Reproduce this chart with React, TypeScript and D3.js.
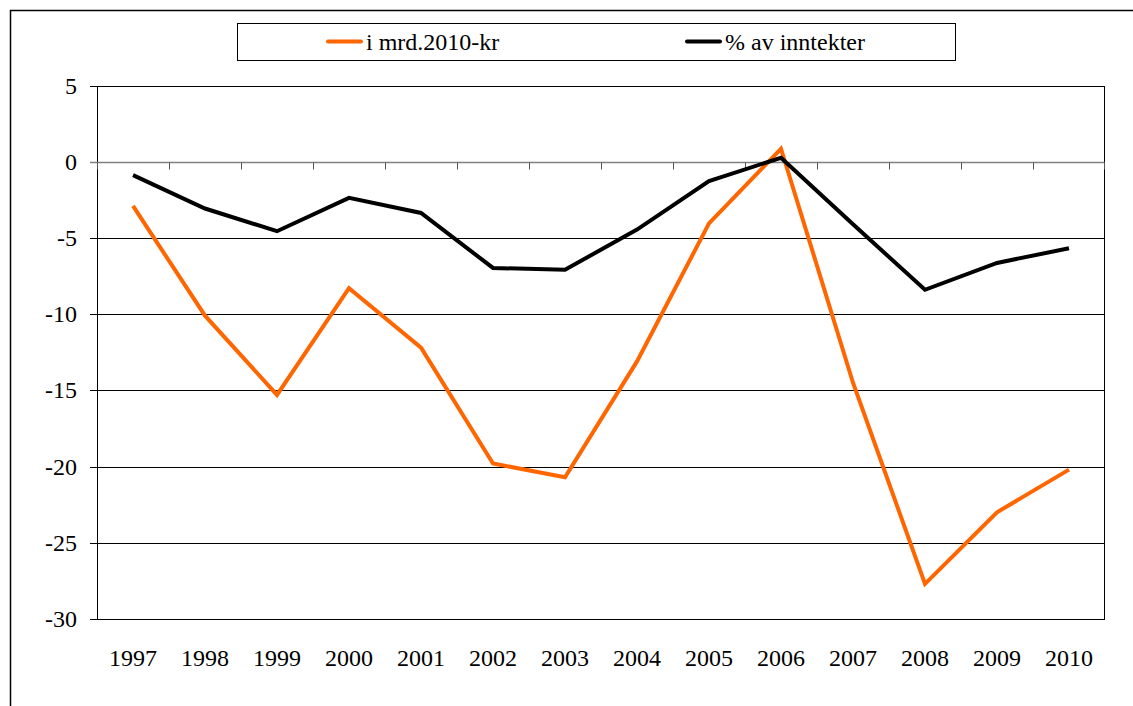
import React from "react";
import * as d3 from "d3";

// categories and series
const years = ["1997", "1998", "1999", "2000", "2001", "2002", "2003", "2004", "2005", "2006", "2007", "2008", "2009", "2010"];
const mrdKr = [-2.9, -10.1, -15.3, -8.3, -12.2, -19.8, -20.7, -13.1, -4.05, 0.85, -14.5, -27.7, -23.0, -20.2];
const pctInntekter = [-0.88, -3.07, -4.56, -2.37, -3.36, -6.97, -7.09, -4.45, -1.27, 0.26, -4.1, -8.4, -6.64, -5.68];
const yTicks = [5, 0, -5, -10, -15, -20, -25, -30];

const seriesNames = ["i mrd.2010-kr", "% av inntekter"];
const seriesColors = ["#FF6600", "#000000"];

const W = 1133;
const H = 706;
const plot = { left: 97, right: 1105, top: 85.5, bottom: 619 };
const font = '"Times New Roman", Times, "Liberation Serif", "DejaVu Serif", "Noto Serif", serif';
const textStyle = { fontFamily: font };

const App = () => {
  const xScale = d3.scaleBand<string>().domain(years).range([plot.left, plot.right]).padding(0);
  const yScale = d3.scaleLinear().domain([-30, 5]).range([plot.bottom, plot.top]);
  const cx = (y: string) => (xScale(y) as number) + xScale.bandwidth() / 2;

  const lineGen = d3
    .line<number>()
    .x((_, i) => cx(years[i]))
    .y((d) => yScale(d));

  const allSeries = [mrdKr, pctInntekter];

  // category boundaries for the tick marks on the zero line
  const boundaries = years.map((y) => Math.round(xScale(y) as number) + 0.5).concat([plot.right - 0.5]);
  const y0 = Math.round(yScale(0)) + 0.5;

  return (
    <svg width={W} height={H} style={{ position: "absolute", left: 0, top: 0, background: "#fff" }}>
      {/* outer frame */}
      <rect x={10.5} y={10.5} width={W} height={H} fill="none" stroke="#000" strokeWidth={1.5} />

      {/* legend */}
      <rect x={237.5} y={23.5} width={718} height={37} fill="#fff" stroke="#000" strokeWidth={1} />
      {seriesNames.map((name, i) => {
        const lx = i === 0 ? 328 : 687;
        return (
          <g key={name}>
            <line x1={lx} x2={lx + 33} y1={41.5} y2={41.5} stroke={seriesColors[i]} strokeWidth={4} strokeLinecap="round" />
            <text x={lx + 38} y={50} fontSize={24} fill="#000" style={textStyle}>
              {name}
            </text>
          </g>
        );
      })}

      {/* gridlines */}
      {yTicks
        .filter((t) => t !== 0)
        .map((t) => (
          <line
            key={"g" + t}
            x1={plot.left - 7}
            x2={plot.right}
            y1={Math.round(yScale(t)) + 0.5}
            y2={Math.round(yScale(t)) + 0.5}
            stroke="#000"
            strokeWidth={1}
          />
        ))}

      {/* plot border */}
      <rect
        x={plot.left + 0.5}
        y={Math.round(plot.top) + 0.5}
        width={plot.right - plot.left - 1}
        height={Math.round(plot.bottom) - Math.round(plot.top)}
        fill="none"
        stroke="#000"
        strokeWidth={1}
      />

      {/* zero axis with category ticks */}
      <line x1={plot.left - 7} x2={plot.right - 0.5} y1={y0} y2={y0} stroke="#808080" strokeWidth={1.5} />
      {boundaries.map((b, i) => (
        <line key={"t" + i} x1={b} x2={b} y1={y0} y2={y0 + 7} stroke="#555" strokeWidth={1} />
      ))}

      {/* y tick labels */}
      {yTicks.map((t) => (
        <text key={"l" + t} x={77} y={yScale(t) + 8} fontSize={24} textAnchor="end" fill="#000" style={textStyle}>
          {t}
        </text>
      ))}

      {/* x labels */}
      {years.map((y) => (
        <text key={y} x={cx(y)} y={666} fontSize={24} textAnchor="middle" fill="#000" style={textStyle}>
          {y}
        </text>
      ))}

      {/* series */}
      {allSeries.map((s, i) => (
        <path
          key={"s" + i}
          d={lineGen(s) as string}
          fill="none"
          stroke={seriesColors[i]}
          strokeWidth={4}
          strokeLinejoin="miter"
        />
      ))}
    </svg>
  );
};

export default App;
